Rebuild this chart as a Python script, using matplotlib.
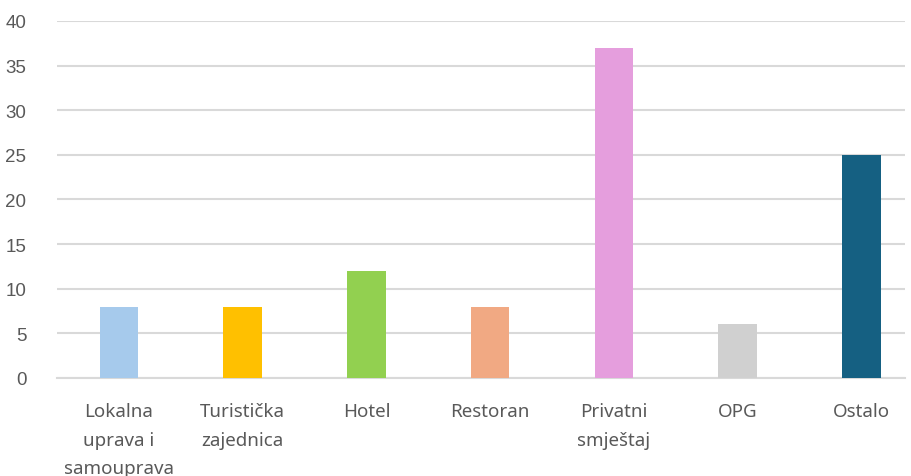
import numpy as np
import matplotlib.pyplot as plt

# podaci
kategorije = ["Lokalna\nuprava i\nsamouprava", "Turistička\nzajednica", "Hotel",
              "Restoran", "Privatni\nsmještaj", "OPG", "Ostalo"]
vrijednosti = [8, 8, 12, 8, 37, 6, 25]
boje = ["#a6caec", "#ffc000", "#92d050", "#f1a983", "#e59edd", "#d0d0d0", "#156082"]

plt.rcParams['font.family'] = ['Noto Sans', 'DejaVu Sans']

fig = plt.figure(figsize=(9.12, 4.77), dpi=100)
ax = fig.add_axes([0.0625, 0.2055, 0.9295, 0.7485])

x = np.arange(len(kategorije))
ax.bar(x, vrijednosti, width=0.31, color=boje, zorder=3)

ax.set_xlim(-0.5, 6.35)
ax.set_ylim(0, 40)
ax.set_yticks(np.arange(0, 41, 5))
ax.yaxis.grid(True, color="#d9d9d9", linewidth=1.5, zorder=0)
ax.set_axisbelow(True)

for s in ["top", "right", "left"]:
    ax.spines[s].set_visible(False)
ax.spines["bottom"].set_color("#d9d9d9")
ax.spines["bottom"].set_linewidth(1.5)

ax.set_xticks(x)
ax.set_xticklabels(kategorije, fontsize=13.5, color="#595959", linespacing=1.78,
                   va="top")
ax.tick_params(axis="x", length=0, pad=17)
ax.tick_params(axis="y", length=0, pad=22, labelsize=13.5, labelcolor="#595959")
for lbl in ax.get_yticklabels():
    lbl.set_fontfamily(['Liberation Sans', 'DejaVu Sans'])

fig.savefig("out.png", dpi=100)
